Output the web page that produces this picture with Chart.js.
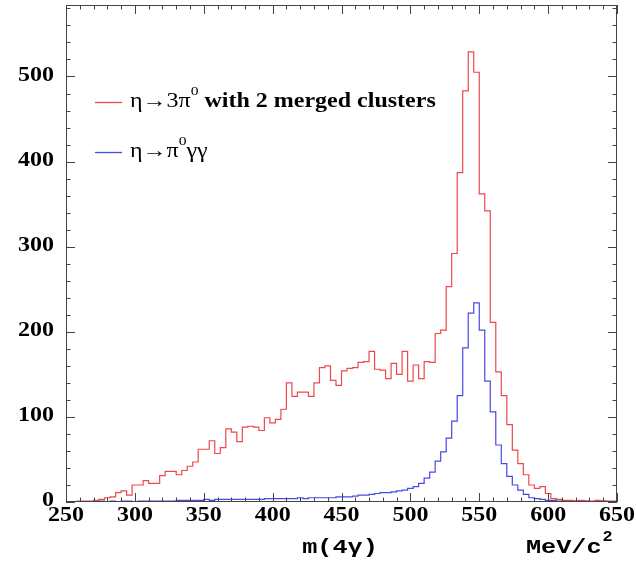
<!DOCTYPE html>
<html>
<head>
<meta charset="utf-8">
<script src="https://cdn.jsdelivr.net/npm/chart.js@4.4.0/dist/chart.umd.min.js"></script>
<style>
  html, body { margin: 0; padding: 0; background: #fff; }
  #wrap { width: 636px; height: 562px; }
</style>
</head>
<body>
<div id="wrap"><canvas id="myChart" width="636" height="562"></canvas></div>
<script>
// histogram binning: 100 bins of 4 MeV from 250 to 650
const binStart = 250;
const binWidth = 4;

// eta -> 3pi0 with 2 merged clusters (red)
const mergedCounts = [
  0, 0, 1, 1, 1, 2, 3, 5, 6, 11,
  13, 8, 20, 20, 25, 22, 22, 31, 36, 36,
  32, 37, 42, 47, 62, 62, 72, 57, 64, 86,
  82, 71, 88, 89, 88, 84, 99, 93, 97, 109,
  140, 124, 129, 129, 124, 140, 158, 160, 143, 137,
  154, 157, 158, 164, 165, 177, 156, 155, 145, 163,
  150, 177, 142, 161, 145, 165, 164, 198, 202, 253,
  292, 387, 483, 529, 505, 362, 342, 211, 153, 125,
  91, 61, 45, 32, 20, 16, 18, 10, 4, 3,
  2, 2, 1, 2, 1, 1, 2, 1, 1, 1
];

// eta -> pi0 gamma gamma (blue)
const pi0ggCounts = [
  0, 0, 0, 0, 0, 0, 1, 0, 1, 0,
  1, 1, 0, 1, 1, 1, 1, 1, 1, 1,
  2, 2, 2, 2, 2, 3, 2, 3, 3, 3,
  3, 3, 3, 3, 3, 3, 4, 4, 4, 4,
  4, 4, 5, 4, 5, 5, 5, 5, 5, 6,
  6, 6, 7, 8, 8, 9, 10, 11, 11, 12,
  13, 14, 16, 18, 22, 28, 35, 48, 59, 75,
  95, 125, 181, 222, 234, 202, 142, 106, 67, 45,
  30, 20, 14, 9, 5, 4, 3, 2, 2, 1,
  1, 1, 1, 0, 1, 0, 0, 1, 0, 0
];

const xTicks = [250, 300, 350, 400, 450, 500, 550, 600, 650];
const yTicks = [0, 100, 200, 300, 400, 500];

const redColor = "rgb(238,72,72)";
const blueColor = "rgb(72,72,232)";

function histPoints(counts) {
  const pts = counts.map((v, i) => ({ x: binStart + i * binWidth, y: v }));
  pts.push({ x: binStart + counts.length * binWidth, y: counts[counts.length - 1] });
  return pts;
}

const serif = '"Liberation Serif", "DejaVu Serif", serif';
const mono = '"Liberation Mono", "DejaVu Sans Mono", monospace';
const SX = 1.2; // the picture is a bit wider than tall, text too

function wideText(ctx, text, x, y, align) {
  ctx.save();
  ctx.translate(x, y);
  ctx.scale(SX, 1);
  ctx.textAlign = align;
  ctx.fillText(text, 0, 0);
  ctx.restore();
}

const framePlugin = {
  id: "frame",
  afterDraw(chart) {
    const ctx = chart.ctx;
    const a = chart.chartArea;
    const xs = chart.scales.x;
    const ys = chart.scales.y;
    ctx.save();
    ctx.strokeStyle = "#444";
    ctx.lineWidth = 1;
    ctx.strokeRect(a.left + 0.5, a.top + 0.5, a.right - a.left - 1, a.bottom - a.top - 1);

    // inward ticks on all four sides
    ctx.beginPath();
    for (let v = 250; v <= 650; v += 10) {
      const px = Math.round(xs.getPixelForValue(v)) + 0.5;
      const len = v % 50 === 0 ? 9 : 4.5;
      ctx.moveTo(px, a.bottom); ctx.lineTo(px, a.bottom - len);
      ctx.moveTo(px, a.top); ctx.lineTo(px, a.top + len);
    }
    for (let v = 0; v <= 580; v += 20) {
      const py = Math.round(ys.getPixelForValue(v)) + 0.5;
      const len = v % 100 === 0 ? 9 : 4.5;
      ctx.moveTo(a.left, py); ctx.lineTo(a.left + len, py);
      ctx.moveTo(a.right, py); ctx.lineTo(a.right - len, py);
    }
    ctx.stroke();

    // tick labels
    ctx.fillStyle = "#000";
    ctx.font = "bold 20px " + serif;
    ctx.textBaseline = "middle";
    yTicks.forEach(v => wideText(ctx, String(v), 54, ys.getPixelForValue(v) - 1, "right"));
    xTicks.forEach(v => wideText(ctx, String(v), xs.getPixelForValue(v), 516, "center"));

    // legend
    const rows = [
      { y: 102, color: redColor, parts: [
        { t: "η→3π", f: "20px " + serif },
        { t: "0", f: "13px " + serif, dy: -10 },
        { t: " with 2 merged clusters", f: "bold 20px " + serif }
      ] },
      { y: 152, color: blueColor, parts: [
        { t: "η→π", f: "20px " + serif },
        { t: "0", f: "13px " + serif, dy: -10 },
        { t: "γγ", f: "20px " + serif }
      ] }
    ];
    rows.forEach(r => {
      ctx.strokeStyle = r.color;
      ctx.lineWidth = 1.3;
      ctx.beginPath();
      ctx.moveTo(95, r.y + 0.5); ctx.lineTo(122, r.y + 0.5);
      ctx.stroke();
      let x = 130;
      r.parts.forEach(p => {
        ctx.font = p.f;
        wideText(ctx, p.t, x, r.y + (p.dy || 0), "left");
        x += ctx.measureText(p.t).width * SX;
      });
    });

    // axis titles
    ctx.textBaseline = "alphabetic";
    ctx.font = "bold 21px " + mono;
    wideText(ctx, "m(4γ)", 340, 553, "center");
    wideText(ctx, "MeV/c", 526, 553, "left");
    const w = ctx.measureText("MeV/c").width * SX;
    ctx.font = "bold 14px " + mono;
    wideText(ctx, "2", 526 + w + 1, 541, "left");
    ctx.restore();
  }
};

const ctx = document.getElementById("myChart");
const myChart = new Chart(ctx, {
  type: "line",
  data: {
    datasets: [
      {
        label: "merged",
        data: histPoints(mergedCounts),
        stepped: "before",
        borderColor: redColor,
        borderWidth: 1.2,
        pointRadius: 0,
        fill: false
      },
      {
        label: "pi0gg",
        data: histPoints(pi0ggCounts),
        stepped: "before",
        borderColor: blueColor,
        borderWidth: 1.2,
        pointRadius: 0,
        fill: false
      }
    ]
  },
  options: {
    responsive: false,
    animation: false,
    devicePixelRatio: 1,
    layout: { padding: { top: 5, right: 19, left: 0, bottom: 0 } },
    plugins: { legend: { display: false }, tooltip: { enabled: false } },
    scales: {
      x: {
        type: "linear",
        min: 250,
        max: 650,
        grid: { display: false, drawTicks: false },
        border: { display: false },
        ticks: { display: false },
        afterFit: (s) => { s.height = 60; s.paddingLeft = 0; s.paddingRight = 0; }
      },
      y: {
        min: 0,
        max: 584,
        grid: { display: false, drawTicks: false },
        border: { display: false },
        ticks: { display: false },
        afterFit: (s) => { s.width = 66; s.paddingTop = 0; s.paddingBottom = 0; }
      }
    }
  },
  plugins: [framePlugin]
});
</script>
</body>
</html>
